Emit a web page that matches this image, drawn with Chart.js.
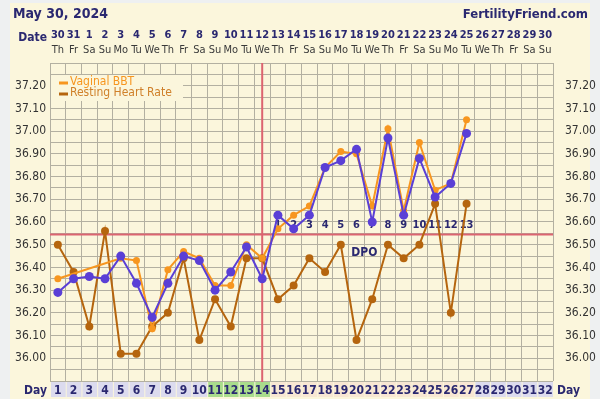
<!DOCTYPE html>
<html>
<head>
<meta charset="utf-8">
<script src="https://cdn.jsdelivr.net/npm/chart.js@4.4.1/dist/chart.umd.min.js"></script>
<style>
  html, body { margin: 0; padding: 0; background: #eef0f1; }
  #wrap { width: 600px; height: 399px; }
</style>
</head>
<body>
<div id="wrap"><canvas id="bbt" width="600" height="399"></canvas></div>
<script>
// cycle days, calendar dates and weekdays along the top
var cycleDays = [1,2,3,4,5,6,7,8,9,10,11,12,13,14,15,16,17,18,19,20,21,22,23,24,25,26,27,28,29,30,31,32];
var dates = ['30','31','1','2','3','4','5','6','7','8','9','10','11','12','13','14','15','16','17','18','19','20','21','22','23','24','25','26','27','28','29','30'];
var weekdays = ['Th','Fr','Sa','Su','Mo','Tu','We','Th','Fr','Sa','Su','Mo','Tu','We','Th','Fr','Sa','Su','Mo','Tu','We','Th','Fr','Sa','Su','Mo','Tu','We','Th','Fr','Sa','Su'];

// recorded days
var days = [1,2,3,4,5,6,7,8,9,10,11,12,13,14,15,16,17,18,19,20,21,22,23,24,25,26,27];
// main temperature (blue)
var bbt = [36.29,36.35,36.36,36.35,36.45,36.33,36.18,36.33,36.45,36.43,36.30,36.38,36.49,36.35,
           36.63,36.57,36.63,36.84,36.87,36.92,36.60,36.97,36.63,36.88,36.71,36.77,36.99];
// vaginal BBT (orange)
var vaginalBbt = [36.35,null,null,null,36.44,36.43,36.13,36.39,36.47,36.44,36.32,36.32,36.50,36.44,
                  36.57,36.63,36.67,36.84,36.91,36.90,36.67,37.01,36.65,36.95,36.74,36.77,37.05];
// resting heart rate, as plotted on the temperature scale (brown)
var heartRate = [36.50,36.38,36.14,36.56,36.02,36.02,36.14,36.20,36.44,36.08,36.26,36.14,36.44,36.44,
                 36.26,36.32,36.44,36.38,36.50,36.08,36.26,36.50,36.44,36.50,36.68,36.20,36.68];

var coverline = 36.545;
var ovulationDay = 14;
var dpoStart = 15; // DPO 1 on cycle day 15
var dpoEnd = 27;

var yTicks = [];
for (var i = 0; i <= 28; i++) yTicks.push(Math.round((35.90 + i * 0.05) * 100) / 100);

var navy = '#2a2870';
var blue = '#5a3fd6';
var orange = '#f7961f';
var brown = '#b5650e';
var cream = '#fbf6dc';
var gridColor = '#b3b0a1';
var font = '"DejaVu Sans Condensed", "Liberation Sans", sans-serif';

function pt(data) {
  return data.map(function (v, i) { return { x: days[i], y: v }; });
}

function tickLabel(v) {
  var c = Math.round(v * 100);
  if (c % 10 !== 0 || c < 3600 || c > 3720) return '';
  return v.toFixed(2);
}

var fertilityExtras = {
  id: 'fertilityExtras',
  beforeDraw: function (chart) {
    var ctx = chart.ctx;
    ctx.save();
    ctx.fillStyle = '#eef0f1';
    ctx.fillRect(0, 0, chart.width, chart.height);
    ctx.fillStyle = cream;
    ctx.fillRect(10, 3, 580, 396);
    ctx.restore();
  },
  beforeDatasetsDraw: function (chart) {
    var ctx = chart.ctx, x = chart.scales.x, y = chart.scales.y, a = chart.chartArea;
    ctx.save();
    // coverline and ovulation line
    ctx.strokeStyle = '#dc6470';
    ctx.lineWidth = 2;
    ctx.beginPath();
    ctx.moveTo(a.left, y.getPixelForValue(coverline));
    ctx.lineTo(a.right, y.getPixelForValue(coverline));
    ctx.stroke();
    ctx.beginPath();
    ctx.moveTo(x.getPixelForValue(ovulationDay), a.top);
    ctx.lineTo(x.getPixelForValue(ovulationDay), a.bottom + 2);
    ctx.stroke();
    // DPO numbers
    ctx.fillStyle = navy;
    ctx.font = 'bold 11px ' + font;
    ctx.textAlign = 'center';
    ctx.textBaseline = 'middle';
    for (var d = dpoStart; d <= dpoEnd; d++) {
      ctx.fillText(String(d - dpoStart + 1), x.getPixelForValue(d), y.getPixelForValue(coverline) - 9);
    }
    ctx.font = 'bold 12px ' + font;
    ctx.fillText('DPO', x.getPixelForValue(20.5), y.getPixelForValue(36.465));
    ctx.restore();
  },
  afterDraw: function (chart) {
    var ctx = chart.ctx, x = chart.scales.x, a = chart.chartArea;
    ctx.save();
    ctx.textBaseline = 'middle';
    // header
    ctx.fillStyle = navy;
    ctx.font = 'bold 14px ' + font;
    ctx.textAlign = 'left';
    ctx.fillText('May 30, 2024', 13, 14);
    ctx.font = 'bold 13px ' + font;
    ctx.textAlign = 'right';
    ctx.fillText('FertilityFriend.com', 588, 15);
    ctx.font = 'bold 12px ' + font;
    ctx.fillText('Date', 47, 38);
    ctx.textAlign = 'center';
    for (var i = 0; i < cycleDays.length; i++) {
      var cx = x.getPixelForValue(cycleDays[i]);
      ctx.fillStyle = navy;
      ctx.font = 'bold 11px ' + font;
      ctx.fillText(dates[i], cx, 35);
      ctx.fillStyle = '#3a3a3a';
      ctx.font = '11px ' + font;
      ctx.fillText(weekdays[i], cx, 50);
    }
    // day row
    var top = a.bottom + 1, h = 15;
    for (var j = 0; j < cycleDays.length; j++) {
      var d = cycleDays[j];
      var l = x.getPixelForValue(d - 0.5), r = x.getPixelForValue(d + 0.5);
      var bg = '#dcdbee';
      if (d >= 11 && d <= 14) bg = '#a9dc8c';
      else if (d >= 15 && d <= 27) bg = '#f8e7d3';
      ctx.fillStyle = bg;
      ctx.fillRect(l + 1, top, r - l - 1, h);
      ctx.fillStyle = navy;
      ctx.font = 'bold 12px ' + font;
      ctx.fillText(String(d), (l + r) / 2, top + h / 2 + 1);
    }
    ctx.font = 'bold 12px ' + font;
    ctx.textAlign = 'right';
    ctx.fillText('Day', 47, top + h / 2 + 1);
    ctx.textAlign = 'left';
    ctx.fillText('Day', 557, top + h / 2 + 1);
    // legend box
    ctx.fillStyle = cream;
    ctx.fillRect(a.left + 1, 75, 132, 26);
    ctx.font = '12px ' + font;
    ctx.lineWidth = 3;
    ctx.strokeStyle = orange;
    ctx.beginPath(); ctx.moveTo(a.left + 9, 83); ctx.lineTo(a.left + 18, 83); ctx.stroke();
    ctx.fillStyle = orange;
    ctx.fillText('Vaginal BBT', a.left + 20, 82);
    ctx.strokeStyle = brown;
    ctx.beginPath(); ctx.moveTo(a.left + 9, 94); ctx.lineTo(a.left + 18, 94); ctx.stroke();
    ctx.fillStyle = '#d0802a';
    ctx.fillText('Resting Heart Rate', a.left + 20, 93);
    ctx.restore();
  }
};

new Chart(document.getElementById('bbt'), {
  type: 'line',
  data: {
    datasets: [
      {
        label: 'Temperature',
        data: pt(bbt),
        borderColor: blue,
        backgroundColor: blue,
        borderWidth: 2,
        pointRadius: 4.5,
        pointBorderWidth: 0,
        tension: 0,
        order: 0
      },
      {
        label: 'Vaginal BBT',
        data: pt(vaginalBbt),
        borderColor: orange,
        backgroundColor: orange,
        borderWidth: 2,
        pointRadius: 3.5,
        pointBorderWidth: 0,
        spanGaps: true,
        tension: 0,
        order: 1
      },
      {
        label: 'Resting Heart Rate',
        data: pt(heartRate),
        borderColor: brown,
        backgroundColor: brown,
        borderWidth: 2,
        pointRadius: 4,
        pointBorderWidth: 0,
        tension: 0,
        order: 2
      }
    ]
  },
  options: {
    responsive: false,
    animation: false,
    layout: { padding: { top: 63, left: 0, right: 0, bottom: 0 } },
    plugins: { legend: { display: false }, tooltip: { enabled: false } },
    scales: {
      x: {
        type: 'linear',
        min: 0.5,
        max: 32.5,
        afterBuildTicks: function (s) {
          s.ticks = [];
          for (var k = 0; k <= 32; k++) s.ticks.push({ value: 0.5 + k });
        },
        afterFit: function (s) { s.height = 18; },
        ticks: { display: false },
        border: { display: false },
        grid: { color: gridColor, lineWidth: 1, drawTicks: false }
      },
      y: {
        position: 'left',
        min: 35.90,
        max: 37.30,
        afterBuildTicks: function (s) {
          s.ticks = yTicks.map(function (v) { return { value: v }; });
        },
        afterFit: function (s) { s.width = 50; },
        ticks: {
          autoSkip: false,
          padding: 4,
          color: '#333',
          font: { family: font, size: 12 },
          callback: tickLabel
        },
        border: { display: false },
        grid: { color: gridColor, lineWidth: 1, drawTicks: false }
      },
      y2: {
        position: 'right',
        min: 35.90,
        max: 37.30,
        afterBuildTicks: function (s) {
          s.ticks = yTicks.map(function (v) { return { value: v }; });
        },
        afterFit: function (s) { s.width = 47; },
        ticks: {
          autoSkip: false,
          padding: 4,
          color: '#333',
          font: { family: font, size: 12 },
          callback: tickLabel
        },
        border: { display: false },
        grid: { display: false }
      }
    }
  },
  plugins: [fertilityExtras]
});
</script>
</body>
</html>
